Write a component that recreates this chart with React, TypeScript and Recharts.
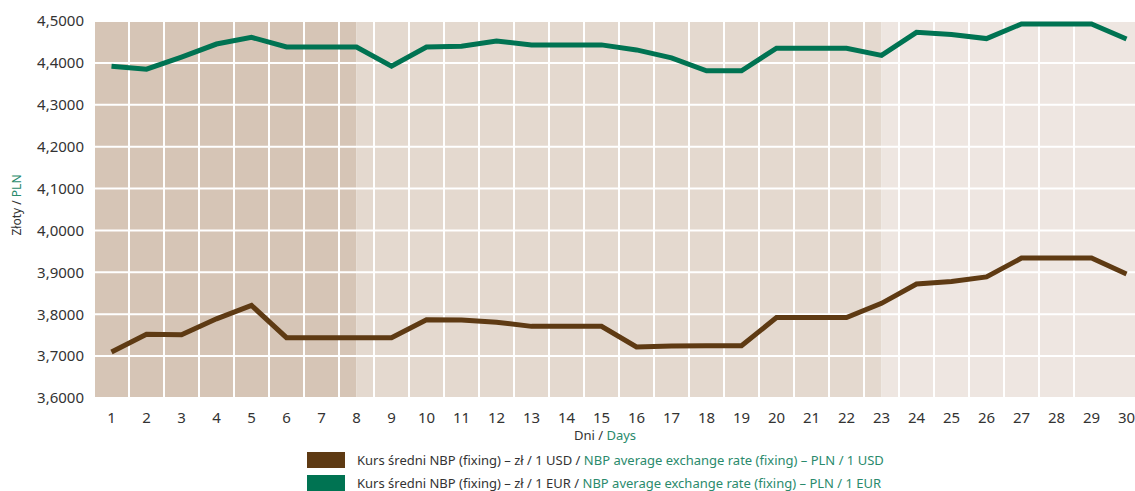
import React from 'react';
import {
  CartesianGrid,
  Line,
  LineChart,
  ReferenceArea,
  XAxis,
  YAxis,
} from 'recharts';

const DAYS = Array.from({ length: 30 }, (_, i) => i + 1);

const USD = [
  3.71, 3.752, 3.751, 3.789, 3.821, 3.744, 3.744, 3.744, 3.744, 3.787,
  3.786, 3.781, 3.771, 3.771, 3.771, 3.722, 3.724, 3.725, 3.725, 3.792,
  3.792, 3.792, 3.826, 3.872, 3.878, 3.889, 3.934, 3.934, 3.934, 3.896,
];

const EUR = [
  4.392, 4.385, 4.414, 4.445, 4.461, 4.438, 4.438, 4.438, 4.392, 4.438,
  4.44, 4.452, 4.443, 4.443, 4.443, 4.431, 4.412, 4.381, 4.381, 4.435,
  4.435, 4.435, 4.418, 4.473, 4.468, 4.458, 4.493, 4.493, 4.493, 4.457,
];

const Y_TICKS = [3.6, 3.7, 3.8, 3.9, 4.0, 4.1, 4.2, 4.3, 4.4, 4.5];

// granice pól siatki (między dniami)
const GRID_X = Array.from({ length: 31 }, (_, i) => i + 0.5);

// tło: trzy odcienie
const BANDS = [
  { from: 0.5, to: 8, fill: '#d6c5b6' },
  { from: 8, to: 23, fill: '#e4d9cf' },
  { from: 23, to: 30.5, fill: '#eee6e1' },
];

const SERIES = [
  {
    key: 'usd',
    color: '#5e3a13',
    pl: 'Kurs średni NBP (fixing) – zł / 1 USD / ',
    en: 'NBP average exchange rate (fixing) – PLN / 1 USD',
  },
  {
    key: 'eur',
    color: '#007352',
    pl: 'Kurs średni NBP (fixing) – zł / 1 EUR / ',
    en: 'NBP average exchange rate (fixing) – PLN / 1 EUR',
  },
];

const GREEN_TEXT = '#2a8a6c';
const DARK_TEXT = '#333333';
const FONT = '"Noto Sans", sans-serif';

const data = DAYS.map((day, i) => ({ day, usd: USD[i], eur: EUR[i] }));

const fmt = (v: number) => v.toFixed(4).replace('.', ',');

const YLabel = () => (
  <text
    x={16}
    y={205}
    transform="rotate(-90 16 205)"
    textAnchor="middle"
    dominantBaseline="central"
    fontSize={12}
    fontFamily={FONT}
  >
    <tspan fill={DARK_TEXT}>Złoty / </tspan>
    <tspan fill={GREEN_TEXT}>PLN</tspan>
  </text>
);

const XLabel = () => (
  <text
    x={605}
    y={435}
    textAnchor="middle"
    dominantBaseline="central"
    fontSize={13}
    fontFamily={FONT}
  >
    <tspan fill={DARK_TEXT}>Dni / </tspan>
    <tspan fill={GREEN_TEXT}>Days</tspan>
  </text>
);

export default function App() {
  return (
    <div
      style={{
        position: 'fixed',
        top: 0,
        left: 0,
        width: 1135,
        height: 491,
        overflow: 'hidden',
        background: '#fff',
        fontFamily: FONT,
      }}
    >
      <LineChart
        width={1144}
        height={448}
        data={data}
        margin={{ top: 21, right: 0, bottom: 0, left: 0 }}
      >
        {BANDS.map((b) => (
          <ReferenceArea
            key={b.from}
            x1={b.from}
            x2={b.to}
            fill={b.fill}
            fillOpacity={1}
            stroke="none"
            ifOverflow="visible"
            zIndex={-200}
          />
        ))}
        <CartesianGrid
          xAxisId="grid"
          stroke="#ffffff"
          strokeWidth={2}
          zIndex={-100}
        />
        <XAxis
          xAxisId="grid"
          dataKey="day"
          type="number"
          domain={[0.5, 30.5]}
          ticks={GRID_X}
          hide
        />
        <XAxis
          dataKey="day"
          type="number"
          domain={[0.5, 30.5]}
          ticks={DAYS}
          interval={0}
          axisLine={false}
          tickLine={false}
          tickMargin={8}
          height={50}
          tick={{ fontSize: 15, fill: DARK_TEXT, fontFamily: FONT }}
          label={<XLabel />}
        />
        <YAxis
          domain={[3.6, 4.5]}
          ticks={Y_TICKS}
          tickFormatter={fmt}
          axisLine={false}
          tickLine={false}
          tickMargin={4}
          width={94}
          tick={{ fontSize: 15, fill: DARK_TEXT, fontFamily: FONT }}
          label={<YLabel />}
        />
        {SERIES.map((s) => (
          <Line
            key={s.key}
            dataKey={s.key}
            stroke={s.color}
            strokeWidth={5}
            dot={false}
            activeDot={false}
            type="linear"
            isAnimationActive={false}
          />
        ))}
      </LineChart>
      <div style={{ position: 'absolute', left: 307, top: 448 }}>
        {SERIES.map((s) => (
          <div
            key={s.key}
            style={{
              display: 'flex',
              alignItems: 'center',
              height: 23.5,
              fontSize: 13,
              lineHeight: '16px',
              whiteSpace: 'nowrap',
            }}
          >
            <span
              style={{
                display: 'inline-block',
                width: 38,
                height: 16,
                background: s.color,
                marginRight: 12,
              }}
            />
            <span style={{ color: DARK_TEXT }}>{s.pl}</span>
            <span style={{ color: GREEN_TEXT }}>&nbsp;{s.en}</span>
          </div>
        ))}
      </div>
    </div>
  );
}
